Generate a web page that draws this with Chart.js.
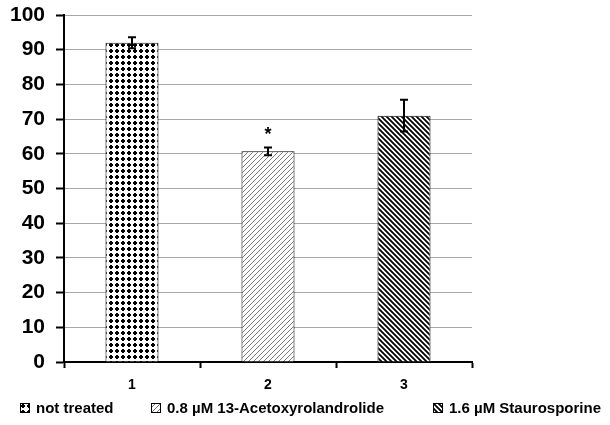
<!DOCTYPE html>
<html>
<head>
<meta charset="utf-8">
<script src="https://cdn.jsdelivr.net/npm/chart.js@4"></script>
<style>
  html, body { margin: 0; padding: 0; background: #fff; }
  #wrap { position: relative; width: 610px; height: 425px; }
  #legend { position: absolute; left: 0; top: 399px; width: 610px; height: 20px; }
  .item { position: absolute; top: 0; display: flex; align-items: center; white-space: nowrap;
          font: bold 15px Arial, "Liberation Sans", sans-serif; color: #000; }
  .item canvas { width: 10px; height: 10px; margin-right: 6px; }
</style>
</head>
<body>
<div id="wrap">
  <canvas id="barChart" width="610" height="425"></canvas>
  <div id="legend"></div>
</div>
<script>
// data
const categories = ['1', '2', '3'];
const values = [92, 60.7, 71];
const errors = [1.6, 1.1, 4.6];
const seriesLabels = ['not treated', '0.8 µM 13-Acetoxyrolandrolide', '1.6 µM Staurosporine'];
const marks = ['', '*', ''];
const yMin = 0, yMax = 100, yStep = 10;

const FONT = 'Arial, "Liberation Sans", sans-serif';
const legendLeft = [20, 151, 433];

// pattern fills like the old excel hatching
function makePattern(size, draw) {
    const c = document.createElement('canvas');
    c.width = size; c.height = size;
    const g = c.getContext('2d');
    g.fillStyle = '#fff';
    g.fillRect(0, 0, size, size);
    draw(g, size);
    return c.getContext('2d').createPattern(c, 'repeat');
}

const dots = makePattern(6, (g) => {
    g.fillStyle = '#000';
    g.fillRect(1, 2, 4, 2);
    g.fillRect(2, 1, 2, 4);
});

const upHatch = makePattern(5, (g, s) => {
    g.strokeStyle = '#7a7a7a';
    g.lineWidth = 1;
    g.beginPath();
    g.moveTo(0, s); g.lineTo(s, 0);
    g.moveTo(-1, 1); g.lineTo(1, -1);
    g.moveTo(s - 1, s + 1); g.lineTo(s + 1, s - 1);
    g.stroke();
});

const downHatch = makePattern(5, (g, s) => {
    g.strokeStyle = '#000';
    g.lineWidth = 1.8;
    g.beginPath();
    g.moveTo(0, 0); g.lineTo(s, s);
    g.moveTo(-1, s - 1); g.lineTo(1, s + 1);
    g.moveTo(s - 1, -1); g.lineTo(s + 1, 1);
    g.stroke();
});

const fills = [dots, upHatch, downHatch];

// error bars and the star above bar 2
const errorBarPlugin = {
    id: 'errorBars',
    afterDatasetsDraw(chart) {
        const ctx = chart.ctx;
        const y = chart.scales.y;
        const meta = chart.getDatasetMeta(0);
        ctx.save();
        ctx.strokeStyle = '#000';
        ctx.lineWidth = 2;
        meta.data.forEach((bar, i) => {
            const top = y.getPixelForValue(values[i] + errors[i]);
            const bot = y.getPixelForValue(values[i] - errors[i]);
            ctx.beginPath();
            ctx.moveTo(bar.x, top); ctx.lineTo(bar.x, bot);
            ctx.moveTo(bar.x - 4, top); ctx.lineTo(bar.x + 4, top);
            ctx.moveTo(bar.x - 4, bot); ctx.lineTo(bar.x + 4, bot);
            ctx.stroke();
            if (marks[i]) {
                ctx.fillStyle = '#000';
                ctx.font = 'bold 18px ' + FONT;
                ctx.textAlign = 'center';
                ctx.textBaseline = 'middle';
                ctx.fillText(marks[i], bar.x, top - 13);
            }
        });
        ctx.restore();
    }
};

const ctx = document.getElementById('barChart').getContext('2d');
new Chart(ctx, {
    type: 'bar',
    data: {
        labels: categories,
        datasets: [{
            data: values,
            backgroundColor: fills,
            borderColor: '#000',
            borderWidth: 1,
            barPercentage: 0.39,
            categoryPercentage: 1
        }]
    },
    options: {
        responsive: false,
        animation: false,
        layout: { padding: { top: 15, right: 0, bottom: 33, left: 0 } },
        scales: {
            x: {
                grid: {
                    offset: true,
                    drawOnChartArea: false,
                    tickLength: 6,
                    tickColor: '#000',
                    tickWidth: 2
                },
                border: { color: '#000', width: 2 },
                ticks: {
                    color: '#000',
                    padding: 9,
                    font: { family: FONT, size: 14, weight: 'bold' }
                },
                afterFit(scale) { scale.height = 30; }
            },
            y: {
                min: yMin,
                max: yMax,
                grid: {
                    color: '#a8a8a8',
                    lineWidth: 1,
                    tickLength: 8,
                    tickColor: '#000',
                    tickWidth: 2
                },
                border: { color: '#000', width: 2 },
                ticks: {
                    stepSize: yStep,
                    autoSkip: false,
                    color: '#000',
                    padding: 11,
                    font: { family: FONT, size: 21, weight: 'bold' }
                },
                afterFit(scale) {
                    scale.width = 64;
                    scale.paddingTop = 0;
                    scale.paddingBottom = 0;
                }
            },
            // empty axis that only keeps the right side of the plot free
            spacer: {
                type: 'linear',
                position: 'right',
                display: true,
                grid: { drawOnChartArea: false, drawTicks: false },
                border: { display: false },
                ticks: { display: false },
                afterFit(scale) {
                    scale.width = 138;
                    scale.paddingTop = 0;
                    scale.paddingBottom = 0;
                }
            }
        },
        plugins: {
            tooltip: { enabled: false },
            legend: { display: false }
        }
    },
    plugins: [errorBarPlugin]
});

// legend under the plot, one entry per bar
const legendEl = document.getElementById('legend');
seriesLabels.forEach((t, i) => {
    const item = document.createElement('div');
    item.className = 'item';
    item.style.left = legendLeft[i] + 'px';
    const sw = document.createElement('canvas');
    sw.width = 10; sw.height = 10;
    const g = sw.getContext('2d');
    g.fillStyle = fills[i];
    g.fillRect(0, 0, 10, 10);
    g.strokeStyle = '#000';
    g.lineWidth = 1;
    g.strokeRect(0.5, 0.5, 9, 9);
    const label = document.createElement('span');
    label.textContent = t;
    item.appendChild(sw);
    item.appendChild(label);
    legendEl.appendChild(item);
});
</script>
</body>
</html>
